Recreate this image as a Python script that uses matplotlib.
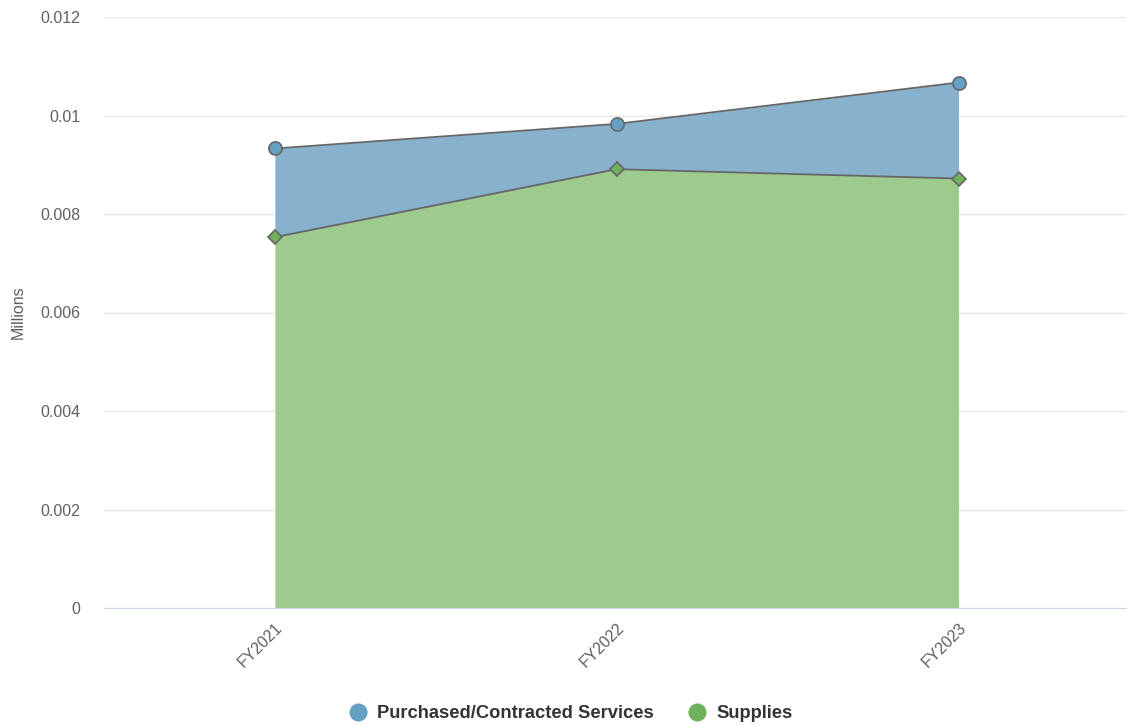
import numpy as np
import matplotlib
matplotlib.use("Agg")
import matplotlib.pyplot as plt
from matplotlib.lines import Line2D

plt.rcParams["font.family"] = ["Liberation Sans", "DejaVu Sans"]

years = ["FY2021", "FY2022", "FY2023"]
supplies = [0.00753, 0.00891, 0.00872]
purchased = [0.00180, 0.00092, 0.00195]

blue_fill = "#88b1cd"
blue_mark = "#65a0c5"
green_fill = "#9ccb8d"
green_mark = "#6fb25b"

fig = plt.figure(figsize=(11.27, 7.25), dpi=100)
ax = fig.add_axes([104/1127, 1-608/725, 1022/1127, 591/725])

x = np.arange(len(years))
top = np.array(supplies) + np.array(purchased)

ax.fill_between(x, 0, supplies, color=green_fill, lw=0, zorder=2)
ax.fill_between(x, supplies, top, color=blue_fill, lw=0, zorder=2)
ax.plot(x, supplies, color="#666666", lw=1.3, zorder=3)
ax.plot(x, top, color="#666666", lw=1.3, zorder=3)
ax.plot(x, supplies, ls="none", marker="D", ms=7.3, mfc=green_mark, mec="#666666", mew=1.2, zorder=4)
ax.plot(x, top, ls="none", marker="o", ms=9.5, mfc=blue_mark, mec="#666666", mew=1.2, zorder=4)

ax.set_xlim(-0.5, 2.49)
ax.set_ylim(0, 0.012)
ax.set_yticks([0, 0.002, 0.004, 0.006, 0.008, 0.01, 0.012])
ax.set_yticklabels(["0", "0.002", "0.004", "0.006", "0.008", "0.01", "0.012"])
ax.set_xticks(x)
ax.set_xticklabels(years, rotation=45, ha="right", rotation_mode="anchor")
ax.tick_params(axis="both", length=0, labelsize=11.5, colors="#606060")
ax.tick_params(axis="y", pad=17)
ax.tick_params(axis="x", pad=9)
ax.grid(axis="y", color="#e6e6e6", lw=1, zorder=0)
for s in ["top", "right", "left"]:
    ax.spines[s].set_visible(False)
ax.spines["bottom"].set_color("#ccd6eb")
ax.spines["bottom"].set_zorder(5)
ax.set_ylabel("Millions", color="#606060", fontsize=11.5)
ax.yaxis.set_label_coords(-78/1022, 0.5)

handles = [
    Line2D([], [], ls="none", marker="o", ms=12, mfc=blue_mark, mec=blue_mark),
    Line2D([], [], ls="none", marker="o", ms=12, mfc=green_mark, mec=green_mark),
]
fig.legend(handles, ["Purchased/Contracted Services", "Supplies"], loc="center",
           bbox_to_anchor=(0.5 + 7/1127, 1-714/725), ncol=2, frameon=False,
           prop={"weight": "bold", "size": 13.2}, labelcolor="#333333",
           handletextpad=0.55, columnspacing=1.85, handlelength=1.0)

fig.savefig("out.png", dpi=100)
